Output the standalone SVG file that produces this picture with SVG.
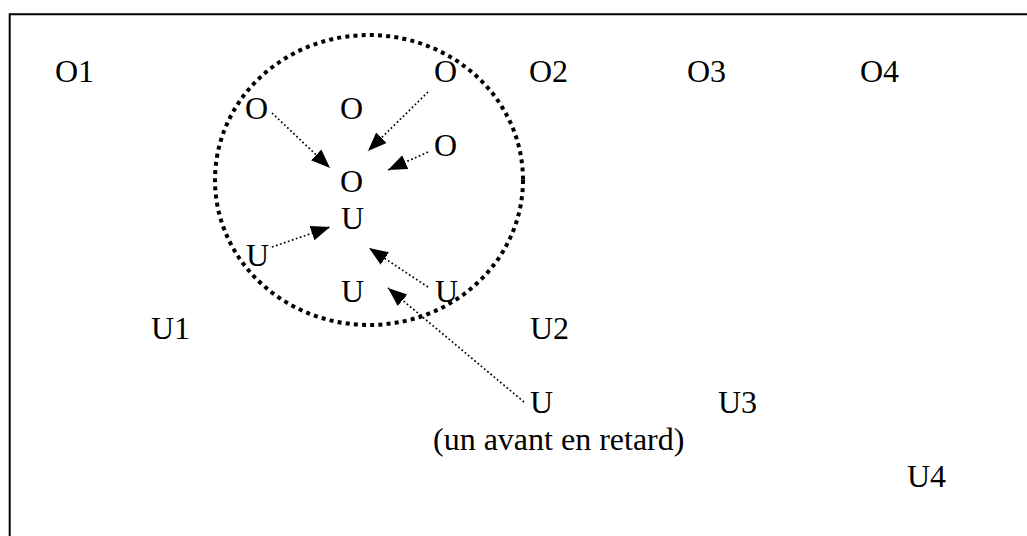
<svg xmlns="http://www.w3.org/2000/svg" width="1027" height="536" viewBox="0 0 1027 536">
<style>
.t { font-family: "Liberation Serif", "DejaVu Serif", "Times New Roman", serif; font-size: 32px; fill: #000; }
.frame { fill: none; stroke: #000; stroke-width: 2; }
.ring { fill: none; stroke: #000; stroke-width: 4; stroke-dasharray: 4 4.2; }
.link { fill: none; stroke: #000; stroke-width: 1.7; stroke-dasharray: 1.7 2.5; marker-end: url(#head); }
</style>
<defs>
<marker id="head" markerUnits="userSpaceOnUse" markerWidth="20" markerHeight="16" viewBox="0 0 20 16" refX="19" refY="7.5" orient="auto">
<path d="M0,0 L19,7.5 L0,15 Z" fill="#000"/>
</marker>
</defs>
<rect width="1027" height="536" fill="#fff"/>
<path class="frame" d="M9.7,540 V14.3 H1030"/>
<g id="cluster">
<ellipse class="ring" cx="369" cy="180" rx="154" ry="145"/>
</g>
<g id="labels" class="t" font-family="Liberation Serif, serif" font-size="32">
<g id="O1"><text x="55" y="82">O1</text></g>
<g id="O-top"><text x="434" y="82">O</text></g>
<g id="O2"><text x="529" y="82">O2</text></g>
<g id="O3"><text x="687" y="82">O3</text></g>
<g id="O4"><text x="860" y="82">O4</text></g>
<g id="O-left"><text x="245" y="119">O</text></g>
<g id="O-mid"><text x="340" y="119">O</text></g>
<g id="O-right"><text x="434" y="156">O</text></g>
<g id="O-center"><text x="340" y="192">O</text></g>
<g id="U-center"><text x="341" y="229">U</text></g>
<g id="U-left"><text x="246" y="266">U</text></g>
<g id="U-bottom"><text x="341" y="302">U</text></g>
<g id="U-right"><text x="435" y="302">U</text></g>
<g id="U1"><text x="151" y="339">U1</text></g>
<g id="U2"><text x="530" y="339">U2</text></g>
<g id="U-late"><text x="530" y="413">U</text><text x="433" y="450">(un avant en retard)</text></g>
<g id="U3"><text x="718" y="413">U3</text></g>
<g id="U4"><text x="907" y="487">U4</text></g>
</g>
<g id="connectors">
<line class="link" x1="272" y1="113" x2="330" y2="168"/>
<line class="link" x1="428" y1="92" x2="368" y2="151"/>
<line class="link" x1="428" y1="152" x2="388" y2="170"/>
<line class="link" x1="272" y1="247" x2="330" y2="227"/>
<line class="link" x1="428" y1="287" x2="369" y2="248"/>
<line class="link" x1="524" y1="402" x2="388" y2="288"/>
</g>
</svg>
